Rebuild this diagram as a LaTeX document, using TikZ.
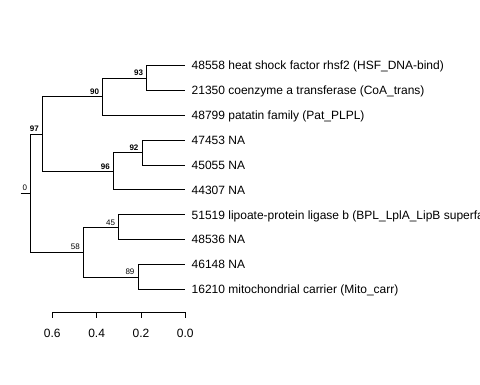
\documentclass[tikz,border=0pt]{standalone}
\usepackage{fontspec}
\setmainfont{Liberation Sans}
\begin{document}
\begin{tikzpicture}[x=1bp,y=-1bp,
  edge/.style={line width=0.8bp, black},
  tiplab/.style={anchor=base west, inner sep=0pt, xshift=6.5bp, yshift=-4.3bp, font=\fontsize{12bp}{14bp}\selectfont},
  bs/.style={anchor=south east, inner sep=0pt, xshift=-3.4bp, yshift=1.8bp, font=\fontsize{8bp}{9bp}\selectfont},
  bsb/.style={bs, font=\fontsize{8bp}{9bp}\selectfont\bfseries},
  axlab/.style={inner sep=0pt, font=\fontsize{12bp}{14bp}\selectfont}]
\useasboundingbox (0,0) rectangle (480,384);
% internal nodes
\coordinate (rs) at (20.7,193);
\coordinate (R) at (30.7,193);
\coordinate (n97) at (42.3,133.9);
\coordinate (n58) at (83.3,252);
\coordinate (n90) at (102.7,96.6);
\coordinate (n96) at (113.3,171.1);
\coordinate (n93) at (146.7,77.9);
\coordinate (n92) at (142,152.5);
\coordinate (n45) at (118.7,227.2);
\coordinate (n89) at (138,276.9);
% tips
\coordinate (t1) at (185,65.5);
\coordinate (t2) at (185,90.4);
\coordinate (t3) at (185,115.2);
\coordinate (t4) at (185,140.1);
\coordinate (t5) at (185,164.9);
\coordinate (t6) at (185,189.8);
\coordinate (t7) at (185,214.7);
\coordinate (t8) at (185,239.6);
\coordinate (t9) at (185,264.4);
\coordinate (t10) at (185,289.3);
% edges
\draw[edge] (rs) -- (R);
\draw[edge] (R) |- (n97);
\draw[edge] (R) |- (n58);
\draw[edge] (n97) |- (n90);
\draw[edge] (n97) |- (n96);
\draw[edge] (n90) |- (n93);
\draw[edge] (n90) |- (t3);
\draw[edge] (n93) |- (t1);
\draw[edge] (n93) |- (t2);
\draw[edge] (n96) |- (n92);
\draw[edge] (n96) |- (t6);
\draw[edge] (n92) |- (t4);
\draw[edge] (n92) |- (t5);
\draw[edge] (n58) |- (n45);
\draw[edge] (n58) |- (n89);
\draw[edge] (n45) |- (t7);
\draw[edge] (n45) |- (t8);
\draw[edge] (n89) |- (t9);
\draw[edge] (n89) |- (t10);
% tip labels
\node[tiplab] (l1) at (t1) {48558 heat shock factor rhsf2 (HSF\_DNA-bind)};
\node[tiplab] (l2) at (t2) {21350 coenzyme a transferase (CoA\_trans)};
\node[tiplab] (l3) at (t3) {48799 patatin family (Pat\_PLPL)};
\node[tiplab] (l4) at (t4) {47453 NA};
\node[tiplab] (l5) at (t5) {45055 NA};
\node[tiplab] (l6) at (t6) {44307 NA};
\node[tiplab] (l7) at (t7) {51519 lipoate-protein ligase b (BPL\_LplA\_LipB superfamily)};
\node[tiplab] (l8) at (t8) {48536 NA};
\node[tiplab] (l9) at (t9) {46148 NA};
\node[tiplab] (l10) at (t10) {16210 mitochondrial carrier (Mito\_carr)};
% support labels
\node[bs] (b0) at (R) {0};
\node[bsb] (b97) at (n97) {97};
\node[bs] (b58) at (n58) {58};
\node[bsb] (b90) at (n90) {90};
\node[bsb] (b96) at (n96) {96};
\node[bsb] (b93) at (n93) {93};
\node[bsb] (b92) at (n92) {92};
\node[bs] (b45) at (n45) {45};
\node[bs] (b89) at (n89) {89};
% axis
\coordinate (a6) at (52.3,312.3);
\coordinate (a4) at (96.6,312.3);
\coordinate (a2) at (141,312.3);
\coordinate (a0) at (185.3,312.3);
\draw[edge] (a6) -- (a0);
\foreach \p in {a6,a4,a2,a0} \draw[edge] (\p) -- ++(0,6);
\node[axlab] (x6) at (52.3,333) {0.6};
\node[axlab] (x4) at (96.6,333) {0.4};
\node[axlab] (x2) at (141,333) {0.2};
\node[axlab] (x0) at (185.3,333) {0.0};
\end{tikzpicture}
\end{document}
